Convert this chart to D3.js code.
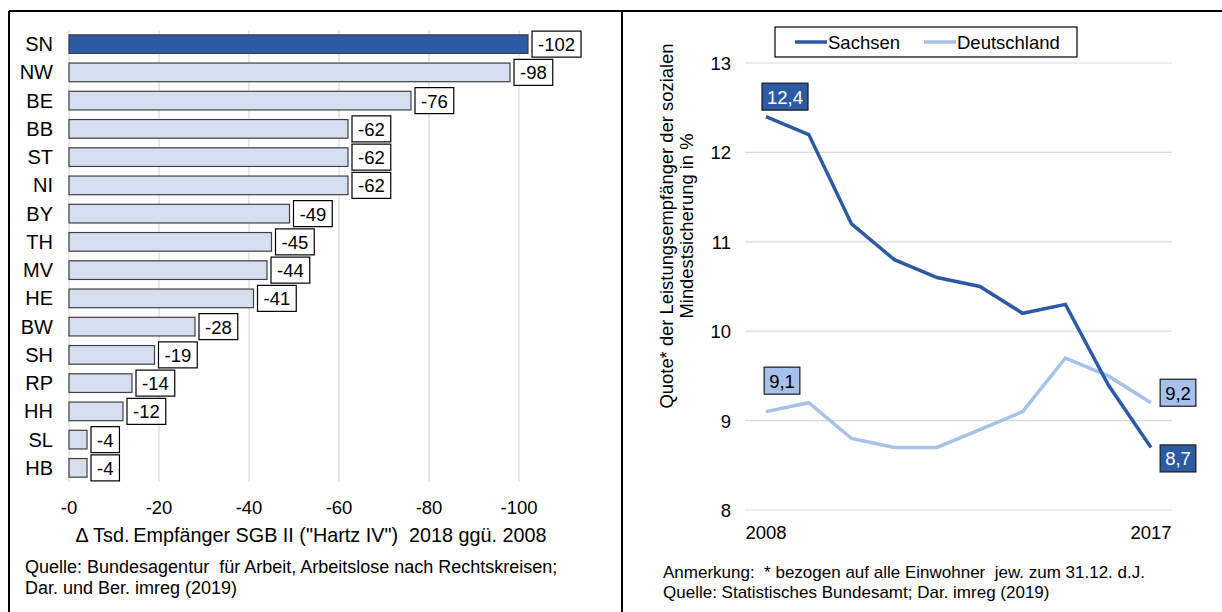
<!DOCTYPE html>
<html>
<head>
<meta charset="utf-8">
<script src="https://cdn.jsdelivr.net/npm/d3@7"></script>
<style>
  body { margin: 0; background: #fff; }
  svg { font-family: "Liberation Sans", Arial, sans-serif; }
</style>
</head>
<body>
<svg id="chart" width="1222" height="612"></svg>
<script>
// Daten links: Veränderung SGB II Empfänger (Tsd.)
var laender = ["SN", "NW", "BE", "BB", "ST", "NI", "BY", "TH", "MV", "HE", "BW", "SH", "RP", "HH", "SL", "HB"];
var deltaWerte = [-102, -98, -76, -62, -62, -62, -49, -45, -44, -41, -28, -19, -14, -12, -4, -4];
var xTicksLinks = [0, -20, -40, -60, -80, -100];

// Daten rechts: Quote Mindestsicherung
var jahre = [2008, 2009, 2010, 2011, 2012, 2013, 2014, 2015, 2016, 2017];
var sachsen = [12.4, 12.2, 11.2, 10.8, 10.6, 10.5, 10.2, 10.3, 9.4, 8.7];
var deutschland = [9.1, 9.2, 8.8, 8.7, 8.7, 8.9, 9.1, 9.7, 9.5, 9.2];
var yTicksRechts = [8, 9, 10, 11, 12, 13];

var dunkelBlau = "#2c5aa5";
var hellBlau = "#a6c2ea";
var svg = d3.select("#chart");

// Rahmen
svg.append("line").attr("x1", 9).attr("x2", 1222).attr("y1", 11).attr("y2", 11).attr("stroke", "#000").attr("stroke-width", 2);
svg.append("line").attr("x1", 9).attr("x2", 9).attr("y1", 11).attr("y2", 612).attr("stroke", "#000").attr("stroke-width", 2);
svg.append("line").attr("x1", 622).attr("x2", 622).attr("y1", 11).attr("y2", 612).attr("stroke", "#000").attr("stroke-width", 2);

// ---------- LINKES DIAGRAMM ----------
var x = d3.scaleLinear().domain([0, -100]).range([69, 519]);
var y = d3.scaleBand().domain(laender).range([30, 482]).paddingInner(0.34).paddingOuter(0.17);

var links = svg.append("g");

links.selectAll(".grid")
    .data(xTicksLinks)
    .enter()
    .append("line")
    .attr("x1", d => x(d)).attr("x2", d => x(d))
    .attr("y1", 30).attr("y2", 482)
    .attr("stroke", "#d9d9d9").attr("stroke-width", 1.2);

links.selectAll(".xlabel")
    .data(xTicksLinks)
    .enter()
    .append("text")
    .attr("x", d => x(d))
    .attr("y", 514)
    .attr("text-anchor", "middle")
    .attr("font-size", 18.5)
    .text(d => d === 0 ? "-0" : d);

var daten = laender.map((l, i) => ({ land: l, wert: deltaWerte[i] }));

links.selectAll(".bar")
    .data(daten)
    .enter()
    .append("rect")
    .attr("x", x(0))
    .attr("y", d => y(d.land))
    .attr("width", d => x(d.wert) - x(0))
    .attr("height", y.bandwidth())
    .attr("fill", d => d.land === "SN" ? dunkelBlau : "#d6dfef")
    .attr("stroke", "#404040")
    .attr("stroke-width", 1.2);

links.selectAll(".cat")
    .data(daten)
    .enter()
    .append("text")
    .attr("x", 53)
    .attr("y", d => y(d.land) + y.bandwidth() / 2 + 7)
    .attr("text-anchor", "end")
    .attr("font-size", 20)
    .text(d => d.land);

// Wertelabels mit Kasten
var labels = links.selectAll(".vlabel")
    .data(daten)
    .enter()
    .append("g");
labels.each(function (d) {
    var g = d3.select(this);
    var bx = x(d.wert) + 4;
    var cy = y(d.land) + y.bandwidth() / 2;
    var rect = g.append("rect");
    var t = g.append("text")
        .attr("x", bx + 6)
        .attr("y", cy + 7)
        .attr("font-size", 18.5)
        .text(d.wert);
    var w = t.node().getComputedTextLength();
    rect.attr("x", bx).attr("y", cy - 13).attr("width", w + 12).attr("height", 26)
        .attr("fill", "#fff").attr("stroke", "#000").attr("stroke-width", 1.2);
});

links.append("text")
    .attr("x", 311).attr("y", 542)
    .attr("text-anchor", "middle")
    .attr("font-size", 19.8)
    .attr("xml:space", "preserve")
    .text("\u0394 Tsd.\u2009Empfänger SGB II (\"Hartz IV\")  2018 ggü. 2008");

links.append("text").attr("x", 25).attr("y", 573).attr("font-size", 18)
    .attr("xml:space", "preserve")
    .text("Quelle: Bundesagentur  für Arbeit, Arbeitslose nach Rechtskreisen;");
links.append("text").attr("x", 25).attr("y", 594).attr("font-size", 18)
    .text("Dar. und Ber. imreg (2019)");

// ---------- RECHTES DIAGRAMM ----------
var xr = d3.scalePoint().domain(jahre).range([766, 1151]);
var yr = d3.scaleLinear().domain([8, 13]).range([510, 63]);
var rechts = svg.append("g");

rechts.selectAll(".gridr")
    .data(yTicksRechts)
    .enter()
    .append("line")
    .attr("x1", 745).attr("x2", 1172)
    .attr("y1", d => yr(d)).attr("y2", d => yr(d))
    .attr("stroke", "#d9d9d9").attr("stroke-width", 1.2);

rechts.selectAll(".ylab")
    .data(yTicksRechts)
    .enter()
    .append("text")
    .attr("x", 731)
    .attr("y", d => yr(d) + 7)
    .attr("text-anchor", "end")
    .attr("font-size", 18.5)
    .text(d => d);

rechts.selectAll(".xlab")
    .data([jahre[0], jahre[jahre.length - 1]])
    .enter()
    .append("text")
    .attr("x", d => xr(d))
    .attr("y", 539)
    .attr("text-anchor", "middle")
    .attr("font-size", 18.5)
    .text(d => d);

var linie = d3.line().x(d => xr(d[0])).y(d => yr(d[1]));

rechts.append("path")
    .datum(jahre.map((j, i) => [j, deutschland[i]]))
    .attr("d", linie)
    .attr("fill", "none").attr("stroke", hellBlau).attr("stroke-width", 3.5);
rechts.append("path")
    .datum(jahre.map((j, i) => [j, sachsen[i]]))
    .attr("d", linie)
    .attr("fill", "none").attr("stroke", dunkelBlau).attr("stroke-width", 3.5);

// Datenlabels rechts
var punktLabels = [
    { jahr: 2008, wert: sachsen[0], fill: dunkelBlau, farbe: "#fff", dx: 19, dy: -20 },
    { jahr: 2008, wert: deutschland[0], fill: hellBlau, farbe: "#000", dx: 16, dy: -31 },
    { jahr: 2017, wert: deutschland[9], fill: hellBlau, farbe: "#000", dx: 27, dy: -10 },
    { jahr: 2017, wert: sachsen[9], fill: dunkelBlau, farbe: "#fff", dx: 27, dy: 11 }
];
punktLabels.forEach(function (p) {
    var cx = xr(p.jahr) + p.dx;
    var cy = yr(p.wert) + p.dy;
    var txt = String(p.wert).replace(".", ",");
    var g = rechts.append("g");
    var r = g.append("rect");
    var t = g.append("text").attr("x", cx).attr("y", cy + 7)
        .attr("text-anchor", "middle").attr("font-size", 18.5)
        .attr("fill", p.farbe).text(txt);
    var w = t.node().getComputedTextLength() + 10;
    r.attr("x", cx - w / 2).attr("y", cy - 13.5).attr("width", w).attr("height", 27)
        .attr("fill", p.fill).attr("stroke", "#1a1a1a").attr("stroke-width", 1.2);
});

// Legende
var leg = rechts.append("g");
leg.append("rect").attr("x", 775).attr("y", 27).attr("width", 302).attr("height", 30)
    .attr("fill", "#fff").attr("stroke", "#000").attr("stroke-width", 1.2);
var legEintraege = [
    { name: "Sachsen", farbe: dunkelBlau, x: 795 },
    { name: "Deutschland", farbe: hellBlau, x: 924 }
];
legEintraege.forEach(function (e) {
    leg.append("line").attr("x1", e.x).attr("x2", e.x + 32).attr("y1", 42).attr("y2", 42)
        .attr("stroke", e.farbe).attr("stroke-width", 3.5);
    leg.append("text").attr("x", e.x + 33).attr("y", 49).attr("font-size", 18.5).text(e.name);
});

// Y-Achsentitel
var yTitel = rechts.append("text")
    .attr("transform", "translate(677,226) rotate(-90)")
    .attr("text-anchor", "middle")
    .attr("font-size", 18.4);
yTitel.append("tspan").attr("x", 0).attr("dy", -4).text("Quote* der Leistungsempfänger der sozialen");
yTitel.append("tspan").attr("x", 0).attr("dy", 20).text("Mindestsicherung in %");

rechts.append("text").attr("x", 663).attr("y", 578).attr("font-size", 17)
    .attr("xml:space", "preserve")
    .text("Anmerkung:  * bezogen auf alle Einwohner  jew. zum 31.12. d.J.");
rechts.append("text").attr("x", 663).attr("y", 598).attr("font-size", 17)
    .text("Quelle: Statistisches Bundesamt; Dar. imreg (2019)");
</script>
</body>
</html>
